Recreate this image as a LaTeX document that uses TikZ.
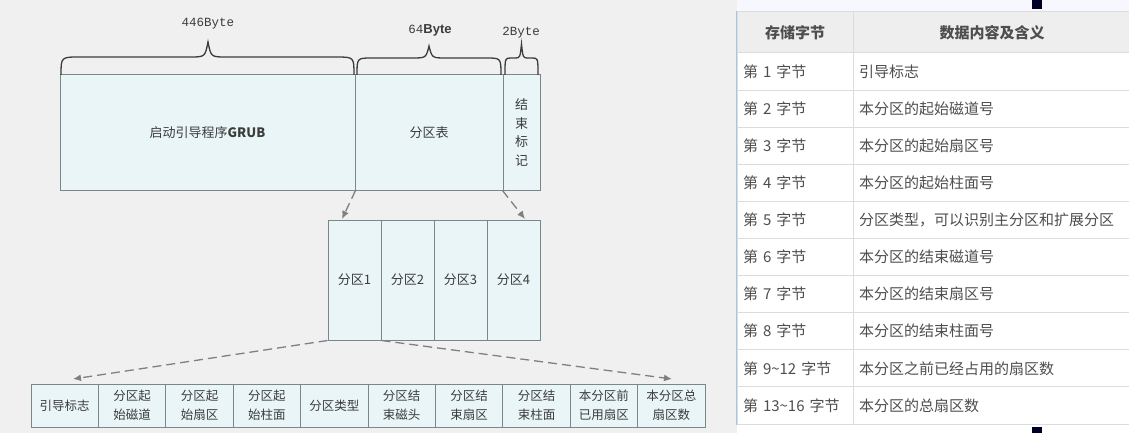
\documentclass[tikz,border=0pt]{standalone}
\usepackage{fontspec}
\setmainfont{Liberation Serif}
\newfontfamily\cjk{Noto Sans CJK SC}
\newfontfamily\monofnt{Liberation Mono}
\newfontfamily\sansfnt{Liberation Sans}
\usetikzlibrary{arrows.meta}
\definecolor{panelbg}{RGB}{240,240,240}
\definecolor{boxfill}{RGB}{233,245,247}
\definecolor{boxline}{RGB}{122,134,136}
\definecolor{inkgray}{RGB}{60,60,60}
\definecolor{tabline}{RGB}{220,220,220}
\definecolor{tabhead}{RGB}{238,238,238}
\definecolor{tabtext}{RGB}{78,78,78}
\definecolor{winedge}{RGB}{168,198,228}
\tikzstyle{mbrbox}=[draw=boxline,fill=boxfill,line width=1pt,inner sep=0pt,text=inkgray,font=\cjk\fontsize{13}{18}\selectfont]
\tikzstyle{partbox}=[mbrbox,minimum width=53pt,minimum height=120pt]
\tikzstyle{fieldbox}=[mbrbox,minimum width=67.4pt,minimum height=43pt,align=center,font=\cjk\fontsize{12.5}{19}\selectfont]
\tikzstyle{bytelabel}=[text=inkgray,font=\monofnt\fontsize{12.5}{14}\selectfont]
\tikzstyle{bracket}=[draw=inkgray,line width=1.3pt]
\tikzstyle{expand}=[draw=gray,line width=1.3pt,dash pattern=on 9pt off 5pt,-{Latex[length=8pt,width=7pt]}]
\tikzstyle{headcell}=[draw=tabline,fill=tabhead,line width=1pt,minimum height=41pt,inner sep=0pt,text=tabtext,font=\cjk\bfseries\fontsize{15}{17}\selectfont]
\tikzstyle{bytecell}=[draw=tabline,fill=white,line width=1pt,minimum height=37.1pt,inner ysep=0pt,inner xsep=6pt,text width=104pt,align=left,text=tabtext,font=\cjk\fontsize{15}{17}\selectfont]
\tikzstyle{desccell}=[bytecell,text width=266pt]

\begin{document}
\begin{tikzpicture}[x=1pt,y=-1pt]
\useasboundingbox (0,0) rectangle (1129,433);
\fill[panelbg] (0,0) rectangle (737,433);
\fill[white] (737,0) rectangle (1129,433);
\fill[blue!3] (737,0) rectangle (1129,11);
\fill[black!85!blue] (1032,0) rectangle (1042,9);
\fill[black!85!blue] (1032,427) rectangle (1042,433);

\node[mbrbox,minimum width=295pt,minimum height=115pt] (grub) at (207.5,132.5) {启动引导程序\textbf{GRUB}};
\node[mbrbox,minimum width=148pt,minimum height=115pt] (ptable) at (429,132.5) {分区表};
\node[mbrbox,minimum width=37pt,minimum height=115pt,align=center,font=\cjk\fontsize{13}{18.5}\selectfont] (endmark) at (521.5,132.5) {结\\束\\标\\记};

\draw[bracket] (61,75) .. controls (61,57) .. (80,57) -- (190,57) .. controls (205,57) .. (208,42) .. controls (211,57) .. (226,57) -- (336,57) .. controls (354,57) .. (354,75);
\draw[bracket] (357,75) .. controls (357,58) .. (372,58) -- (412,58) .. controls (426,58) .. (429,46) .. controls (432,58) .. (446,58) -- (486,58) .. controls (501,58) .. (501,75);
\draw[bracket] (505,75) .. controls (505,58) .. (511,58) -- (515,58) .. controls (520,58) .. (521.5,44) .. controls (523,58) .. (528,58) -- (532,58) .. controls (538,58) .. (538,75);

\node[bytelabel] (b446) at (208,24) {446Byte};
\node[bytelabel] (b64) at (430,30) {64{\sansfnt\bfseries\fontsize{13}{13}\selectfont Byte}};
\node[bytelabel] (b2) at (521,33) {2Byte};

\node[partbox] (part1) at (354.5,280) {分区1};
\node[partbox] (part2) at (407.5,280) {分区2};
\node[partbox] (part3) at (460.5,280) {分区3};
\node[partbox] (part4) at (513.5,280) {分区4};

\coordinate (p1top) at (342,219);
\coordinate (p4top) at (525,219);
\draw[expand] (grub.south east) -- (p1top);
\draw[expand] (endmark.south west) -- (p4top);

\node[fieldbox] (field1) at (64.7,405.5) {引导标志};
\node[fieldbox] (field2) at (132.1,405.5) {分区起\\始磁道};
\node[fieldbox] (field3) at (199.5,405.5) {分区起\\始扇区};
\node[fieldbox] (field4) at (266.9,405.5) {分区起\\始柱面};
\node[fieldbox] (field5) at (334.3,405.5) {分区类型};
\node[fieldbox] (field6) at (401.7,405.5) {分区结\\束磁头};
\node[fieldbox] (field7) at (469.1,405.5) {分区结\\束扇区};
\node[fieldbox] (field8) at (536.5,405.5) {分区结\\束柱面};
\node[fieldbox] (field9) at (603.9,405.5) {本分区前\\已用扇区};
\node[fieldbox] (field10) at (671.3,405.5) {本分区总\\扇区数};

\coordinate (fleft) at (73,379);
\coordinate (fright) at (672,379);
\draw[expand] (part1.south west) -- (fleft);
\draw[expand] (part1.south east) -- (fright);

\node[headcell,minimum width=116pt] (hbyte) at (795,32.5) {存储字节};
\node[headcell,minimum width=278pt] (hdesc) at (992,32.5) {数据内容及含义};

\node[bytecell] (byte1) at (795,71.55) {第 1 字节};
\node[desccell] (desc1) at (992,71.55) {引导标志};
\node[bytecell] (byte2) at (795,108.65) {第 2 字节};
\node[desccell] (desc2) at (992,108.65) {本分区的起始磁道号};
\node[bytecell] (byte3) at (795,145.75) {第 3 字节};
\node[desccell] (desc3) at (992,145.75) {本分区的起始扇区号};
\node[bytecell] (byte4) at (795,182.85) {第 4 字节};
\node[desccell] (desc4) at (992,182.85) {本分区的起始柱面号};
\node[bytecell] (byte5) at (795,219.95) {第 5 字节};
\node[desccell] (desc5) at (992,219.95) {分区类型，可以识别主分区和扩展分区};
\node[bytecell] (byte6) at (795,257.05) {第 6 字节};
\node[desccell] (desc6) at (992,257.05) {本分区的结束磁道号};
\node[bytecell] (byte7) at (795,294.15) {第 7 字节};
\node[desccell] (desc7) at (992,294.15) {本分区的结束扇区号};
\node[bytecell] (byte8) at (795,331.25) {第 8 字节};
\node[desccell] (desc8) at (992,331.25) {本分区的结束柱面号};
\node[bytecell] (byte9) at (795,368.35) {第 9\textasciitilde 12 字节};
\node[desccell] (desc9) at (992,368.35) {本分区之前已经占用的扇区数};
\node[bytecell] (byte10) at (795,405.45) {第 13\textasciitilde 16 字节};
\node[desccell] (desc10) at (992,405.45) {本分区的总扇区数};

\draw[winedge,line width=1.5pt] (hbyte.north west) -- (byte10.south west);
\end{tikzpicture}
\end{document}
